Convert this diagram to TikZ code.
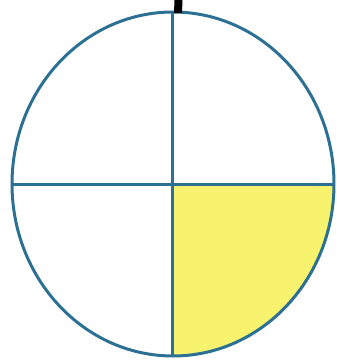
\documentclass[tikz,border=0pt]{standalone}
\definecolor{rim}{RGB}{44,112,148}
\definecolor{fillyel}{RGB}{248,243,110}
\tikzset{rimline/.style={draw=rim,line width=3pt},
  quarter/.style={fill=fillyel}}
\begin{document}
\begin{tikzpicture}[x=1pt,y=1pt]
\useasboundingbox (0,0) rectangle (337,360);
\coordinate (c) at (173,176);
\fill[quarter] (c) -- ++(161,0) arc[start angle=0,end angle=-90,x radius=161,y radius=172] -- cycle;
\draw[rimline] (c) ellipse[x radius=161,y radius=172];
\draw[rimline] (12,176) -- (334,176);
\draw[rimline] (173,4) -- (173,348);
\fill[black] (174.5,360) -- (182.5,360) -- (182,347) -- (174,347) -- cycle;
\end{tikzpicture}
\end{document}
